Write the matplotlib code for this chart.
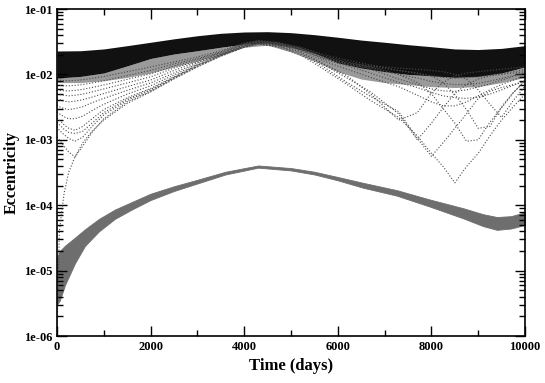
import matplotlib
matplotlib.use("Agg")
import matplotlib.pyplot as plt
from matplotlib.ticker import LogLocator, MultipleLocator, NullFormatter

# sample times (days) for the thin curves of the upper family
t_thin = [0, 50, 150, 250, 385, 550, 750, 1000, 1500, 2000,
          2500, 3000, 3500, 4000, 4300, 4700, 5200, 5700, 6200, 6700,
          7300, 7700, 8000, 8250, 8500, 8750, 9000, 9250, 9500, 9750, 10000]

curve_1 = [8.2e-3, 8.1e-3, 8.0e-3, 8.0e-3, 8.1e-3, 8.3e-3, 8.7e-3, 9.3e-3, 1.1e-2, 1.3e-2,
           1.55e-2, 1.85e-2, 2.3e-2, 3.0e-2, 3.3e-2, 3.1e-2, 2.6e-2, 2.0e-2, 1.65e-2, 1.4e-2,
           1.15e-2, 1.03e-2, 9.5e-3, 9.0e-3, 8.8e-3, 8.9e-3, 9.2e-3, 9.7e-3, 1.03e-2, 1.1e-2, 1.18e-2]
curve_2 = [6.9e-3, 6.8e-3, 6.7e-3, 6.7e-3, 6.8e-3, 7.0e-3, 7.4e-3, 8.0e-3, 9.6e-3, 1.15e-2,
           1.45e-2, 1.75e-2, 2.2e-2, 2.95e-2, 3.25e-2, 3.05e-2, 2.55e-2, 1.9e-2, 1.55e-2, 1.3e-2,
           1.0e-2, 8.8e-3, 7.8e-3, 7.3e-3, 7.0e-3, 7.0e-3, 7.3e-3, 7.9e-3, 8.7e-3, 9.6e-3, 1.06e-2]
curve_3 = [5.8e-3, 5.7e-3, 5.6e-3, 5.6e-3, 5.7e-3, 5.9e-3, 6.3e-3, 6.9e-3, 8.4e-3, 1.02e-2,
           1.35e-2, 1.7e-2, 2.15e-2, 2.9e-2, 3.2e-2, 3.0e-2, 2.5e-2, 1.8e-2, 1.45e-2, 1.2e-2,
           8.5e-3, 7.0e-3, 6.0e-3, 5.6e-3, 5.5e-3, 5.8e-3, 6.4e-3, 7.2e-3, 8.2e-3, 9.3e-3, 1.05e-2]
curve_4 = [5.0e-3, 4.9e-3, 4.8e-3, 4.7e-3, 4.8e-3, 5.0e-3, 5.4e-3, 6.0e-3, 7.4e-3, 9.2e-3,
           1.25e-2, 1.6e-2, 2.1e-2, 2.85e-2, 3.15e-2, 2.95e-2, 2.45e-2, 1.7e-2, 1.35e-2, 1.05e-2,
           7.5e-3, 6.3e-3, 5.3e-3, 4.7e-3, 4.4e-3, 4.3e-3, 4.5e-3, 5.0e-3, 5.8e-3, 6.8e-3, 8.0e-3]
curve_5 = [4.2e-3, 4.1e-3, 3.9e-3, 3.8e-3, 3.9e-3, 4.1e-3, 4.5e-3, 5.1e-3, 6.5e-3, 8.2e-3,
           1.15e-2, 1.55e-2, 2.05e-2, 2.8e-2, 3.1e-2, 2.9e-2, 2.35e-2, 1.6e-2, 1.2e-2, 9.0e-3,
           6.5e-3, 4.8e-3, 3.8e-3, 3.3e-3, 3.3e-3, 3.8e-3, 4.7e-3, 5.8e-3, 7.0e-3, 8.2e-3, 9.5e-3]
curve_6 = [3.4e-3, 3.2e-3, 3.0e-3, 2.9e-3, 3.0e-3, 3.2e-3, 3.7e-3, 4.3e-3, 5.7e-3, 7.4e-3,
           1.05e-2, 1.5e-2, 2.0e-2, 2.75e-2, 3.05e-2, 2.95e-2, 2.5e-2, 1.85e-2, 1.5e-2, 1.35e-2,
           1.25e-2, 1.2e-2, 1.15e-2, 1.1e-2, 1.0e-2, 8.5e-3, 5.8e-3, 3.5e-3, 2.2e-3, 4.0e-3, 6.6e-3]
curve_7 = [2.66e-3, 2.5e-3, 2.25e-3, 2.1e-3, 2.1e-3, 2.3e-3, 2.8e-3, 3.5e-3, 5.0e-3, 6.7e-3,
           9.8e-3, 1.45e-2, 2.0e-2, 2.7e-2, 3.0e-2, 2.8e-2, 2.25e-2, 1.45e-2, 9.5e-3, 5.0e-3,
           2.0e-3, 2.6e-3, 5.2e-3, 7.5e-3, 9.5e-3, 1.05e-2, 1.1e-2, 1.15e-2, 1.2e-2, 1.25e-2, 1.3e-2]
curve_8 = [2.15e-3, 2.0e-3, 1.7e-3, 1.5e-3, 1.4e-3, 1.6e-3, 2.1e-3, 2.9e-3, 4.4e-3, 6.1e-3,
           9.2e-3, 1.4e-2, 1.95e-2, 2.7e-2, 3.0e-2, 2.9e-2, 2.45e-2, 1.8e-2, 1.45e-2, 1.3e-2,
           1.15e-2, 1.05e-2, 9.5e-3, 7.5e-3, 4.9e-3, 2.9e-3, 1.5e-3, 1.6e-3, 3.2e-3, 5.3e-3, 8.0e-3]
curve_9 = [1.58e-3, 1.4e-3, 1.2e-3, 1.05e-3, 9.5e-4, 1.1e-3, 1.6e-3, 2.4e-3, 4.0e-3, 5.7e-3,
           8.9e-3, 1.35e-2, 1.95e-2, 2.65e-2, 2.95e-2, 2.75e-2, 2.2e-2, 1.4e-2, 8.8e-3, 5.4e-3,
           2.5e-3, 1.0e-3, 1.8e-3, 3.1e-3, 5.1e-3, 7.0e-3, 8.5e-3, 9.5e-3, 1.0e-2, 1.05e-2, 1.1e-2]
curve_10 = [1.1e-3, 1.0e-3, 8.0e-4, 6.5e-4, 5.5e-4, 8.0e-4, 1.3e-3, 2.1e-3, 3.8e-3, 5.5e-3,
            8.7e-3, 1.32e-2, 1.9e-2, 2.6e-2, 2.9e-2, 2.7e-2, 2.1e-2, 1.3e-2, 7.5e-3, 4.6e-3,
            2.7e-3, 1.05e-3, 5.6e-4, 9.0e-4, 1.5e-3, 2.5e-3, 4.3e-3, 5.5e-3, 6.3e-3, 7.0e-3, 7.8e-3]
curve_11 = [1.0e-6, 4.0e-5, 1.5e-4, 3.2e-4, 5.5e-4, 9.0e-4, 1.35e-3, 2.0e-3, 3.6e-3, 5.4e-3,
            8.5e-3, 1.3e-2, 1.9e-2, 2.6e-2, 2.9e-2, 2.65e-2, 2.0e-2, 1.2e-2, 7.0e-3, 4.0e-3,
            2.2e-3, 1.15e-3, 6.2e-4, 3.9e-4, 2.2e-4, 3.9e-4, 6.2e-4, 1.15e-3, 2.0e-3, 3.2e-3, 5.0e-3]
curve_12 = [1.85e-3, 1.7e-3, 1.45e-3, 1.3e-3, 1.25e-3, 1.35e-3, 1.8e-3, 2.6e-3, 4.2e-3, 5.9e-3,
            9.0e-3, 1.38e-2, 1.95e-2, 2.7e-2, 3.0e-2, 2.85e-2, 2.4e-2, 1.75e-2, 1.4e-2, 1.25e-2,
            1.0e-2, 7.5e-3, 5.1e-3, 3.0e-3, 1.8e-3, 9.5e-4, 1.0e-3, 1.85e-3, 3.1e-3, 5.2e-3, 8.0e-3]

thin_curves = [curve_1, curve_2, curve_3, curve_4, curve_5, curve_6,
               curve_7, curve_8, curve_9, curve_10, curve_11, curve_12]

# dense part of the upper family: black core and the grey hatched zone below it
t_band = [0, 500, 1000, 1500, 2000, 2500, 3000, 3500, 4000, 4500, 5000,
          5500, 6000, 6500, 7000, 7500, 8000, 8500, 9000, 9500, 10000]
band_top = [2.28e-2, 2.3e-2, 2.45e-2, 2.75e-2, 3.1e-2, 3.5e-2, 3.9e-2, 4.25e-2, 4.45e-2, 4.5e-2, 4.35e-2,
            4.05e-2, 3.7e-2, 3.35e-2, 3.1e-2, 2.85e-2, 2.65e-2, 2.45e-2, 2.4e-2, 2.5e-2, 2.75e-2]
band_bot = [8.8e-3, 9.3e-3, 1.05e-2, 1.35e-2, 1.75e-2, 2.05e-2, 2.3e-2, 2.6e-2, 2.9e-2, 3.0e-2, 2.6e-2,
            2.1e-2, 1.5e-2, 1.25e-2, 1.1e-2, 1.0e-2, 9.5e-3, 9.0e-3, 9.3e-3, 1.05e-2, 1.3e-2]
haze_bot = [7.5e-3, 7.5e-3, 8.0e-3, 9.0e-3, 1.05e-2, 1.3e-2, 1.6e-2, 2.0e-2, 2.6e-2, 2.8e-2, 2.2e-2,
            1.6e-2, 1.1e-2, 8.5e-3, 7.5e-3, 7.0e-3, 6.5e-3, 6.3e-3, 6.5e-3, 7.5e-3, 9.0e-3]

# lower (grey) curve
t_low = [0, 60, 170, 385, 600, 900, 1240, 1600, 2000, 2500, 3000, 3600, 4300,
         5000, 5500, 6000, 6540, 7260, 7970, 8680, 9100, 9400, 9700, 10000]
low_top = [1.6e-5, 2.0e-5, 2.4e-5, 3.2e-5, 4.3e-5, 6.2e-5, 8.6e-5, 1.12e-4, 1.5e-4, 1.95e-4, 2.45e-4, 3.25e-4,
           4.05e-4, 3.7e-4, 3.25e-4, 2.7e-4, 2.2e-4, 1.7e-4, 1.22e-4, 9.0e-5, 7.3e-5, 6.6e-5, 6.8e-5, 7.8e-5]
low_bot = [3.0e-6, 3.5e-6, 6.0e-6, 1.3e-5, 2.4e-5, 4.0e-5, 6.2e-5, 8.6e-5, 1.2e-4, 1.65e-4, 2.15e-4, 2.95e-4,
           3.75e-4, 3.4e-4, 2.95e-4, 2.4e-4, 1.85e-4, 1.4e-4, 9.5e-5, 6.3e-5, 4.8e-5, 4.2e-5, 4.4e-5, 5.0e-5]

plt.rcParams['font.family'] = ['Liberation Serif', 'DejaVu Serif']
plt.rcParams['font.weight'] = 'bold'

fig = plt.figure(figsize=(5.45, 3.83), dpi=100)
ax = fig.add_axes([0.1046, 0.1227, 0.8587, 0.8538])

ax.fill_between(t_band, haze_bot, band_bot, color='#9a9a9a', linewidth=0)
ax.fill_between(t_band, band_bot, band_top, color='#111111', linewidth=0)
for c in thin_curves:
    ax.plot(t_thin, c, linestyle=':', color='#4a4a4a', linewidth=0.8)
ax.fill_between(t_low, low_bot, low_top, color='#6e6e6e', linewidth=0.6, edgecolor='#6e6e6e')

ax.set_yscale('log')
ax.set_xlim(0, 10000)
ax.set_ylim(1e-6, 1e-1)

ax.xaxis.set_major_locator(MultipleLocator(2000))
ax.xaxis.set_minor_locator(MultipleLocator(1000))
ax.yaxis.set_minor_locator(LogLocator(base=10, subs=range(2, 10), numticks=20))
ax.yaxis.set_minor_formatter(NullFormatter())
ax.set_yticks([1e-6, 1e-5, 1e-4, 1e-3, 1e-2, 1e-1])
ax.set_yticklabels(['1e-06', '1e-05', '1e-04', '1e-03', '1e-02', '1e-01'])
ax.set_xticks([0, 2000, 4000, 6000, 8000, 10000])
ax.set_xticklabels(['0', '2000', '4000', '6000', '8000', '10000'])

ax.tick_params(which='both', direction='in', top=True, right=True, labelsize=9, width=1)
ax.tick_params(which='major', length=7)
ax.tick_params(which='minor', length=4)
for s in ax.spines.values():
    s.set_linewidth(1.2)

ax.set_xlabel('Time (days)', fontsize=12, fontweight='bold', labelpad=4)
ax.set_ylabel('Eccentricity', fontsize=11.5, fontweight='bold', labelpad=3)

fig.savefig('out.png', dpi=100)
